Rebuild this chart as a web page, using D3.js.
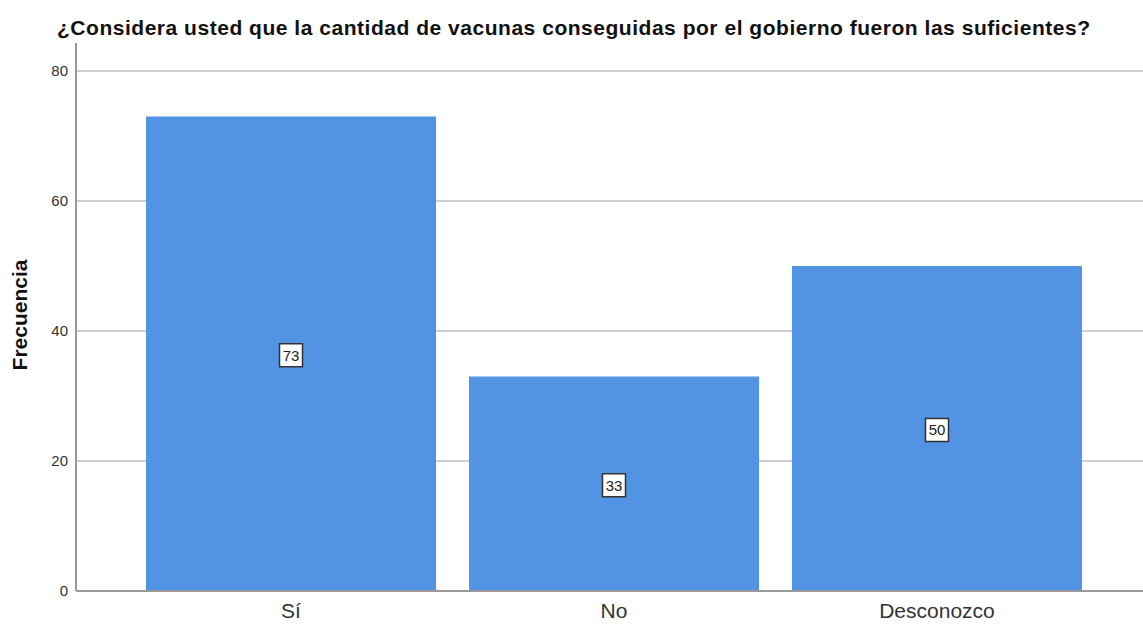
<!DOCTYPE html>
<html lang="es">
<head>
  <meta charset="UTF-8" />
  <script src="https://d3js.org/d3.v7.min.js"></script>
  <title>Vacunas</title>
  <style>
    body { margin: 0; background: #fff; }
    text { font-family: "Liberation Sans", Arial, sans-serif; }
  </style>
</head>
<body>
<script type="text/javascript">
var categories = ["Sí", "No", "Desconozco"];
var counts = [73, 33, 50];
var yTicks = [0, 20, 40, 60, 80];

var width = 1143, height = 624;
var x0 = 76, yBase = 591, yTop = 71;

var svg = d3.select("body").append("svg").attr("width", width).attr("height", height);

var x = d3.scaleBand().domain(categories).range([x0, 1152]).paddingInner(0.102).paddingOuter(0.2167);
var y = d3.scaleLinear().domain([0, 80]).range([yBase, yTop]);

// gridlines
svg.append("g").selectAll("line").data(yTicks.filter(function(d){ return d > 0; })).enter().append("line")
  .attr("x1", x0).attr("x2", width)
  .attr("y1", function(d){ return y(d); }).attr("y2", function(d){ return y(d); })
  .attr("stroke", "#cfcfcf").attr("stroke-width", 2);

// bars
svg.append("g").selectAll("rect").data(counts).enter().append("rect")
  .attr("x", function(d, i){ return x(categories[i]); })
  .attr("y", function(d){ return y(d); })
  .attr("width", x.bandwidth())
  .attr("height", function(d){ return yBase - y(d); })
  .attr("fill", "#5294e3");

// value labels
var lab = svg.append("g").selectAll("g").data(counts).enter().append("g")
  .attr("transform", function(d, i){
    return "translate(" + (x(categories[i]) + x.bandwidth() / 2) + "," + y(d / 2) + ")";
  });
lab.append("rect").attr("x", -11.5).attr("y", -10).attr("width", 23).attr("height", 23)
  .attr("fill", "#fff").attr("stroke", "#333").attr("stroke-width", 1.5);
lab.append("text").attr("text-anchor", "middle").attr("y", 1.5).attr("dy", "0.36em")
  .attr("font-size", 15).attr("fill", "#222").text(function(d){ return d; });

// y axis
var yAxis = svg.append("g").attr("transform", "translate(" + x0 + ",0)")
  .call(d3.axisLeft(y).tickValues(yTicks).tickSize(0).tickPadding(8));
yAxis.select(".domain").remove();
yAxis.selectAll("text").attr("font-size", 15).attr("fill", "#333")
  .style("font-family", "'Liberation Sans', Arial, sans-serif");
svg.append("line").attr("x1", x0).attr("x2", x0).attr("y1", 43).attr("y2", yBase)
  .attr("stroke", "#999").attr("stroke-width", 2);

// x axis
var xAxis = svg.append("g").attr("transform", "translate(0," + yBase + ")")
  .call(d3.axisBottom(x).tickSize(0).tickPadding(12));
xAxis.select(".domain").remove();
xAxis.selectAll("text").attr("font-size", 21).attr("fill", "#333")
  .style("font-family", "'Liberation Sans', Arial, sans-serif");
svg.append("line").attr("x1", x0).attr("x2", width).attr("y1", yBase).attr("y2", yBase)
  .attr("stroke", "#999").attr("stroke-width", 2);

// titles
svg.append("text").attr("x", 57).attr("y", 35).attr("font-size", 21).attr("font-weight", "bold")
  .attr("fill", "#111").attr("textLength", 1033).attr("lengthAdjust", "spacing")
  .text("¿Considera usted que la cantidad de vacunas conseguidas por el gobierno fueron las suficientes?");
svg.append("text").attr("transform", "translate(27,315) rotate(-90)")
  .attr("text-anchor", "middle").attr("font-size", 21).attr("font-weight", "bold").attr("fill", "#111")
  .text("Frecuencia");
</script>
</body>
</html>
